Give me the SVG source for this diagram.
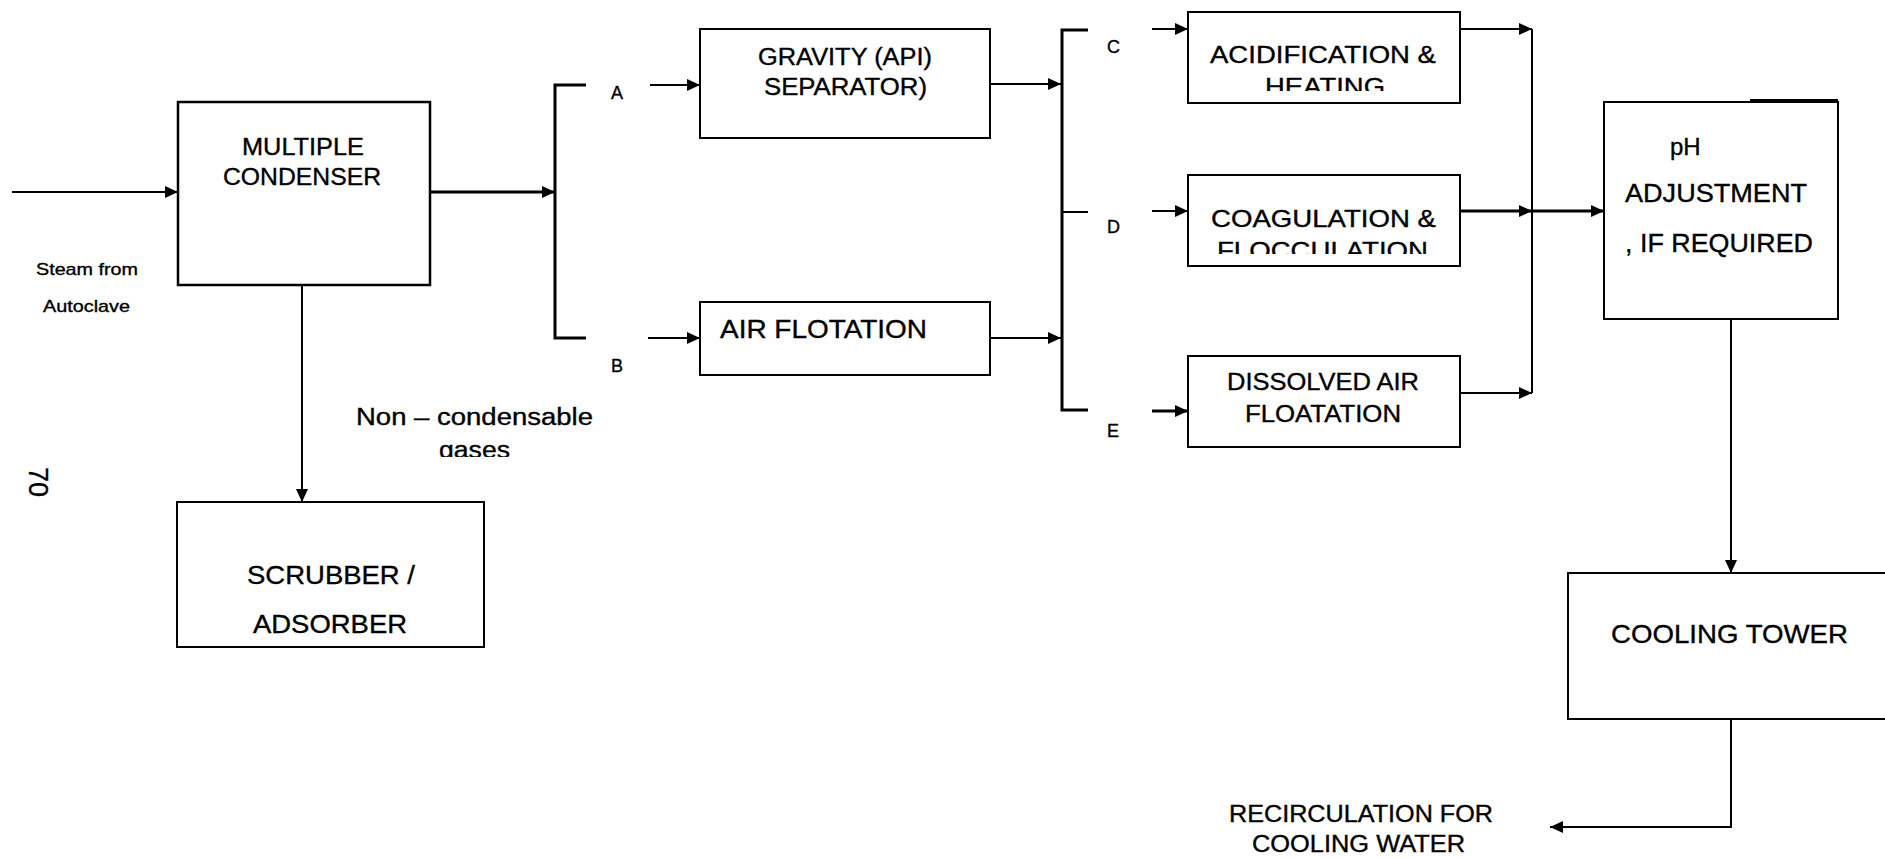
<svg xmlns="http://www.w3.org/2000/svg" width="1885" height="858" viewBox="0 0 1885 858">
<style>
.box{fill:#fff;stroke:#000;stroke-width:2}
.ln{fill:none;stroke:#000;stroke-width:2}
.thk{fill:none;stroke:#000;stroke-width:3}
text{font-family:"Liberation Sans",Arial,Helvetica,sans-serif;fill:#000;stroke:#000;stroke-width:0.35}
.t{font-size:24px}
.s{font-size:17px}
</style>
<defs>
<marker id="ah" markerUnits="userSpaceOnUse" markerWidth="13" markerHeight="12" refX="13" refY="6" orient="auto">
<path d="M0,0 L13,6 L0,12 z" fill="#000"/>
</marker>
<clipPath id="cH"><rect x="1188" y="0" width="272" height="91"/></clipPath>
<clipPath id="cF"><rect x="1188" y="175" width="272" height="79"/></clipPath>
<clipPath id="cG"><rect x="400" y="430" width="150" height="27"/></clipPath>
</defs>
<rect width="1885" height="858" fill="#fff" stroke="none"/>

<g id="connectors">
<path class="ln" d="M12,192 H178" marker-end="url(#ah)"/>
<path class="thk" d="M430,192 H555" marker-end="url(#ah)"/>
<path class="thk" d="M586,85 H555 V338 H586"/>
<path class="ln" d="M650,85 H700" marker-end="url(#ah)"/>
<path class="ln" d="M648,338 H700" marker-end="url(#ah)"/>
<path class="ln" d="M990,84 H1061" marker-end="url(#ah)"/>
<path class="ln" d="M990,338 H1061" marker-end="url(#ah)"/>
<path class="thk" d="M1088,30 H1062 V410 H1088"/>
<path class="ln" d="M1062,212 H1088"/>
<path class="ln" d="M1152,29 H1188" marker-end="url(#ah)"/>
<path class="ln" d="M1152,211 H1188" marker-end="url(#ah)"/>
<path class="thk" d="M1152,411 H1188" marker-end="url(#ah)"/>
<path class="ln" d="M1460,29 H1532" marker-end="url(#ah)"/>
<path class="thk" d="M1460,211 H1532" marker-end="url(#ah)"/>
<path class="thk" d="M1532,211 H1604" marker-end="url(#ah)"/>
<path class="ln" d="M1460,393 H1532" marker-end="url(#ah)"/>
<path class="ln" d="M1532,29 V393"/>
<path class="ln" d="M1731,319 V573" marker-end="url(#ah)"/>
<path class="ln" d="M1731,719 V827 H1550" marker-end="url(#ah)"/>
<path class="ln" d="M302,285 V502" marker-end="url(#ah)"/>
</g>

<g id="condenser">
<rect class="box" x="178" y="102" width="252" height="183" style="stroke-width:2.5"/>
<text class="t" x="242" y="155" textLength="122" lengthAdjust="spacingAndGlyphs">MULTIPLE</text>
<text class="t" x="223" y="185" textLength="158" lengthAdjust="spacingAndGlyphs">CONDENSER</text>
</g>

<g id="steam-label">
<text class="s" x="36" y="275" textLength="102" lengthAdjust="spacingAndGlyphs">Steam from</text>
<text class="s" x="43" y="312" textLength="87" lengthAdjust="spacingAndGlyphs">Autoclave</text>
</g>

<g id="gases-label">
<text x="356" y="425" font-size="23" textLength="237" lengthAdjust="spacingAndGlyphs">Non – condensable</text>
<text x="439" y="458" font-size="23" textLength="71" lengthAdjust="spacingAndGlyphs" clip-path="url(#cG)">gases</text>
</g>

<g id="page-number">
<text x="29" y="467" font-size="27" transform="rotate(90 29 467)">70</text>
</g>

<g id="scrubber">
<rect class="box" x="177" y="502" width="307" height="145"/>
<text x="247" y="584" font-size="25" textLength="168" lengthAdjust="spacingAndGlyphs">SCRUBBER /</text>
<text x="253" y="633" font-size="25" textLength="154" lengthAdjust="spacingAndGlyphs">ADSORBER</text>
</g>

<g id="labels-ab">
<text x="611" y="99" font-size="18">A</text>
<text x="611" y="372" font-size="18">B</text>
</g>

<g id="gravity">
<rect class="box" x="700" y="29" width="290" height="109"/>
<text x="758" y="65" font-size="23" textLength="174" lengthAdjust="spacingAndGlyphs">GRAVITY (API)</text>
<text x="764" y="95" font-size="23" textLength="163" lengthAdjust="spacingAndGlyphs">SEPARATOR)</text>
</g>

<g id="air-flotation">
<rect class="box" x="700" y="302" width="290" height="73"/>
<text x="720" y="338" font-size="25" textLength="207" lengthAdjust="spacingAndGlyphs">AIR FLOTATION</text>
</g>

<g id="labels-cde">
<text x="1107" y="53" font-size="18">C</text>
<text x="1107" y="233" font-size="18">D</text>
<text x="1107" y="437" font-size="18">E</text>
</g>

<g id="acidification">
<rect class="box" x="1188" y="12" width="272" height="91"/>
<text x="1210" y="63" font-size="24" textLength="226" lengthAdjust="spacingAndGlyphs">ACIDIFICATION &amp;</text>
<text x="1265" y="95" font-size="24" textLength="120" lengthAdjust="spacingAndGlyphs" clip-path="url(#cH)">HEATING</text>
</g>

<g id="coagulation">
<rect class="box" x="1188" y="175" width="272" height="91"/>
<text x="1211" y="227" font-size="24" textLength="225" lengthAdjust="spacingAndGlyphs">COAGULATION &amp;</text>
<text x="1217" y="259" font-size="24" textLength="211" lengthAdjust="spacingAndGlyphs" clip-path="url(#cF)">FLOCCULATION</text>
</g>

<g id="dissolved-air">
<rect class="box" x="1188" y="356" width="272" height="91"/>
<text x="1227" y="390" font-size="23" textLength="192" lengthAdjust="spacingAndGlyphs">DISSOLVED AIR</text>
<text x="1245" y="422" font-size="23" textLength="156" lengthAdjust="spacingAndGlyphs">FLOATATION</text>
</g>

<g id="ph-adjustment">
<rect class="box" x="1604" y="102" width="234" height="217"/>
<path d="M1750,101 H1838" stroke="#000" stroke-width="4"/>
<text x="1670" y="155" font-size="24">pH</text>
<text x="1625" y="202" font-size="25" textLength="182" lengthAdjust="spacingAndGlyphs">ADJUSTMENT</text>
<text x="1625" y="252" font-size="25" textLength="188" lengthAdjust="spacingAndGlyphs">, IF REQUIRED</text>
</g>

<g id="cooling-tower">
<rect class="box" x="1568" y="573" width="330" height="146"/>
<text x="1611" y="643" font-size="26" textLength="237" lengthAdjust="spacingAndGlyphs">COOLING TOWER</text>
</g>

<g id="recirculation-label">
<text x="1229" y="822" font-size="23" textLength="264" lengthAdjust="spacingAndGlyphs">RECIRCULATION FOR</text>
<text x="1252" y="852" font-size="23" textLength="213" lengthAdjust="spacingAndGlyphs">COOLING WATER</text>
</g>
</svg>
